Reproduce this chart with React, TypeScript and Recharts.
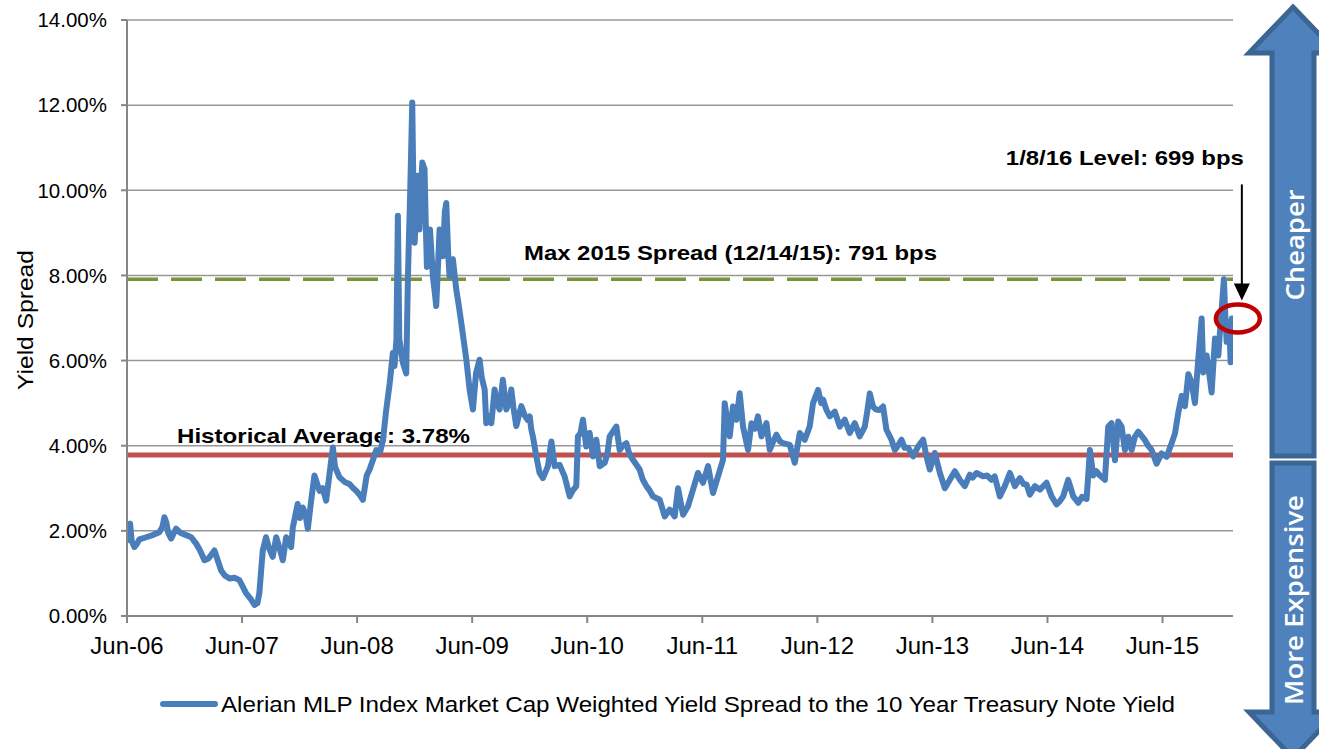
import {
  LineChart,
  Line,
  XAxis,
  YAxis,
  CartesianGrid,
  ReferenceLine,
  ReferenceDot,
} from "recharts";

type Pt = [number, number];

// x = months since Jun-06, y = yield spread in %
const spread2006: Pt[] = [
  [0, 1.78], [0.15, 2.1], [0.32, 2.17], [0.5, 1.75], [0.77, 1.62], [1.05, 1.7],
  [1.29, 1.8], [2.0, 1.85], [2.68, 1.9], [3.38, 1.97], [3.7, 2.1], [3.9, 2.32],
  [4.1, 2.2], [4.3, 1.95], [4.6, 1.82], [5.12, 2.05], [5.6, 1.95], [6.17, 1.9],
  [6.7, 1.85], [7.21, 1.7], [7.6, 1.55], [8.08, 1.31], [8.5, 1.35], [9.12, 1.54],
  [9.4, 1.35], [9.82, 1.07], [10.2, 0.95], [10.69, 0.88], [11.2, 0.9], [11.73, 0.84],
];
const spread2007: Pt[] = [
  [12.43, 0.53], [12.9, 0.4], [13.3, 0.26], [13.6, 0.3], [13.8, 0.53], [14.0, 1.1],
  [14.16, 1.54], [14.5, 1.85], [14.8, 1.6], [15.2, 1.39], [15.56, 1.85], [15.9, 1.6],
  [16.25, 1.31], [16.6, 1.85], [17.12, 1.62], [17.3, 2.09], [17.8, 2.63], [18.05, 2.3],
  [18.33, 2.55], [18.6, 2.4], [18.86, 2.05], [19.2, 2.7], [19.55, 3.3], [20.08, 2.94],
  [20.4, 3.0], [20.77, 2.71], [21.1, 3.3], [21.47, 3.96], [21.7, 3.5], [22.16, 3.26],
  [22.7, 3.15], [23.2, 3.1], [23.6, 3.0], [23.9, 2.94], [24.25, 2.85],
];
const spread2008: Pt[] = [
  [24.6, 2.73], [25.0, 3.3], [25.3, 3.44], [25.7, 3.7], [26.0, 3.9], [26.4, 3.85],
  [26.7, 4.14], [27.04, 4.85], [27.4, 5.47], [27.73, 6.18], [27.9, 5.87], [28.1, 6.5],
  [28.25, 9.4], [28.4, 6.5], [28.77, 5.95], [29.12, 5.7], [29.3, 7.98], [29.54, 10.0],
  [29.75, 12.06], [29.9, 9.5], [30.0, 8.77], [30.2, 9.8], [30.34, 10.34], [30.5, 9.08],
  [30.65, 10.0], [30.8, 10.65], [31.03, 10.5], [31.15, 9.3], [31.28, 8.2], [31.45, 8.5],
  [31.6, 9.08], [31.9, 7.98], [32.1, 7.6], [32.25, 7.28], [32.45, 8.3], [32.6, 9.08],
  [32.94, 8.45], [33.15, 9.5], [33.3, 9.7], [33.5, 8.5], [33.64, 7.98], [33.99, 8.38],
  [34.34, 7.67], [34.6, 7.3], [34.86, 6.89], [35.1, 6.5], [35.39, 6.02], [35.73, 5.32],
  [36.08, 4.85],
];
const spread2009: Pt[] = [
  [36.4, 5.7], [36.77, 6.02], [37.0, 5.6], [37.3, 5.32], [37.47, 4.53], [37.7, 4.7],
  [38.0, 4.53], [38.34, 5.32], [38.6, 5.0], [38.86, 4.85], [39.2, 5.55], [39.56, 4.85],
  [39.8, 5.0], [40.08, 5.32], [40.3, 4.9], [40.6, 4.46], [41.12, 4.93], [41.5, 4.7],
  [41.8, 4.6], [42.0, 4.69], [42.17, 4.38], [42.33, 4.22], [42.69, 3.75], [43.03, 3.36],
  [43.38, 3.24], [43.9, 3.52], [44.26, 4.1], [44.6, 3.52], [45.12, 3.55], [45.64, 3.28],
  [46.17, 2.81], [46.5, 2.95], [46.86, 3.05], [47.03, 4.22], [47.3, 4.3], [47.55, 4.61],
  [47.9, 3.98],
];
const spread2010: Pt[] = [
  [48.25, 4.3], [48.6, 3.75], [48.95, 4.14], [49.3, 3.52], [49.82, 3.6], [50.1, 3.8],
  [50.34, 4.22], [51.04, 4.45], [51.38, 3.9], [51.7, 4.0], [52.08, 4.06], [52.4, 3.8],
  [52.77, 3.67], [53.47, 3.44], [53.8, 3.2], [54.17, 3.05], [54.5, 2.95], [54.86, 2.81],
  [55.56, 2.73], [56.08, 2.34], [56.6, 2.5], [57.12, 2.34], [57.47, 3.0], [57.99, 2.38],
  [58.51, 2.58], [59.03, 2.97], [59.55, 3.36], [60.08, 3.13],
];
const spread2011: Pt[] = [
  [60.6, 3.52], [61.12, 2.89], [61.64, 3.28], [62.16, 3.67], [62.34, 5.0], [62.6, 4.6],
  [62.86, 4.22], [63.2, 4.92], [63.56, 4.61], [63.9, 5.23], [64.25, 4.45], [64.77, 3.9],
  [65.13, 4.53], [65.5, 4.4], [65.8, 4.69], [66.17, 4.22], [66.69, 4.53], [67.04, 3.9],
  [67.4, 4.1], [67.73, 4.26], [68.1, 4.1], [68.42, 4.06], [69.12, 4.02], [69.64, 3.6],
  [70.17, 4.3], [70.69, 4.14], [71.2, 4.45], [71.55, 5.0], [72.08, 5.31],
];
const spread2012: Pt[] = [
  [72.4, 5.0], [72.6, 5.08], [72.95, 4.84], [73.3, 4.69], [73.82, 4.8], [74.34, 4.45],
  [74.86, 4.61], [75.38, 4.3], [75.9, 4.53], [76.42, 4.22], [76.95, 4.45], [77.2, 4.8],
  [77.47, 5.23], [77.8, 4.92], [78.1, 4.85], [78.5, 4.84], [78.86, 4.92], [79.2, 4.38],
  [79.73, 4.14], [80.08, 3.9], [80.4, 4.0], [80.78, 4.14], [81.1, 3.95], [81.47, 3.95],
  [81.99, 3.75], [82.5, 3.98], [83.03, 4.14], [83.38, 3.75], [83.73, 3.44], [84.25, 3.83],
];
const spread2013: Pt[] = [
  [84.78, 3.36], [85.3, 3.0], [85.82, 3.2], [86.34, 3.4], [86.86, 3.2], [87.38, 3.05],
  [87.9, 3.32], [88.2, 3.25], [88.6, 3.36], [89.3, 3.28], [89.7, 3.3], [90.17, 3.2],
  [90.5, 3.28], [91.03, 2.81], [91.55, 3.05], [92.08, 3.36], [92.6, 3.05], [93.12, 3.24],
  [93.5, 3.1], [93.82, 3.09], [94.16, 2.85], [94.69, 3.05], [95.21, 2.97], [95.9, 3.13],
];
const spread2014: Pt[] = [
  [96.43, 2.81], [96.95, 2.62], [97.3, 2.7], [97.64, 2.81], [98.16, 3.2], [98.69, 2.81],
  [99.2, 2.66], [99.6, 2.8], [100.08, 2.75], [100.25, 3.3], [100.43, 3.9], [100.77, 3.3],
  [101.1, 3.4], [101.47, 3.3], [101.99, 3.2], [102.34, 4.45], [102.69, 4.53], [103.04, 3.66],
  [103.38, 4.57], [103.73, 4.45], [104.08, 3.9], [104.43, 4.21], [104.78, 3.9], [105.1, 4.2],
  [105.47, 4.33], [106.17, 4.13], [106.5, 4.0], [106.86, 3.9], [107.38, 3.58], [107.9, 3.82],
];
const spread2015: Pt[] = [
  [108.43, 3.74], [108.95, 4.06], [109.3, 4.29], [109.64, 4.77], [110.0, 5.17], [110.34, 4.93],
  [110.69, 5.68], [111.04, 5.48], [111.38, 5.0], [111.73, 6.04], [112.08, 6.99], [112.25, 5.72],
  [112.6, 6.12], [112.95, 5.56], [113.12, 5.25], [113.47, 6.52], [113.82, 6.12], [113.99, 6.67],
  [114.4, 7.91], [114.55, 7.07], [114.69, 6.44], [114.96, 6.91], [115.1, 5.96], [115.23, 6.99],
];

const tickMonths = [0, 12, 24, 36, 48, 60, 72, 84, 96, 108];
const tickLabels = ["Jun-06", "Jun-07", "Jun-08", "Jun-09", "Jun-10", "Jun-11", "Jun-12", "Jun-13", "Jun-14", "Jun-15"];
const yTicks = [0, 2, 4, 6, 8, 10, 12, 14];

const historicalAverage = 3.78;
const max2015Spread = 7.91;
const lastPoint: Pt = [115.23, 6.99];

const data = [
  ...spread2006, ...spread2007, ...spread2008, ...spread2009, ...spread2010,
  ...spread2011, ...spread2012, ...spread2013, ...spread2014, ...spread2015,
].map(([m, v]) => ({ m, v }));

const FONT = '"Liberation Sans", Arial, sans-serif';
const BLUE = "#4A7EBB";

function lineLabel(text: string, dx: number, dy: number, len: number) {
  return ({ viewBox }: any) => (
    <text
      x={viewBox.x + dx}
      y={viewBox.y + dy}
      fontFamily={FONT}
      fontSize={21}
      fontWeight="bold"
      fill="#000"
      textLength={len}
      lengthAdjust="spacingAndGlyphs"
    >
      {text}
    </text>
  );
}

function LevelCallout({ cx, cy }: { cx: number; cy: number }) {
  return (
    <g>
      <text
        x={cx + 12}
        y={cy - 153}
        textAnchor="end"
        fontFamily={FONT}
        fontSize={21}
        fontWeight="bold"
        fill="#000"
        textLength={238}
        lengthAdjust="spacingAndGlyphs"
      >
        1/8/16 Level: 699 bps
      </text>
      <line x1={cx + 10} y1={cy - 134} x2={cx + 10} y2={cy - 32} stroke="#000" strokeWidth={2} />
      <polygon points={`${cx + 2},${cy - 35} ${cx + 18},${cy - 35} ${cx + 10},${cy - 18}`} fill="#000" />
      <ellipse cx={cx + 6} cy={cy} rx={22} ry={14} fill="none" stroke="#C00000" strokeWidth={4.5} />
    </g>
  );
}

function SideArrows() {
  return (
    <svg
      width={1319}
      height={749}
      style={{ position: "absolute", left: 0, top: 0, pointerEvents: "none" }}
    >
      <polygon
        points="1293,7 1337,53 1314,53 1314,456 1272,456 1272,53 1249,53"
        fill="#4F81BD"
        stroke="#3B6593"
        strokeWidth={5}
        strokeLinejoin="miter"
      />
      <polygon
        points="1272,463 1314,463 1314,712 1337,712 1293,758 1249,712 1272,712"
        fill="#4F81BD"
        stroke="#3B6593"
        strokeWidth={5}
        strokeLinejoin="miter"
      />
      <text
        x={1294}
        y={245}
        transform="rotate(-90 1294 245)"
        textAnchor="middle"
        dominantBaseline="central"
        fontFamily='"Open Sans", sans-serif'
        fontWeight={600}
        fontSize={26}
        fill="#fff"
        textLength={111}
        lengthAdjust="spacingAndGlyphs"
      >
        Cheaper
      </text>
      <text
        x={1293}
        y={600}
        transform="rotate(-90 1293 600)"
        textAnchor="middle"
        dominantBaseline="central"
        fontFamily='"Open Sans", sans-serif'
        fontWeight={600}
        fontSize={26}
        fill="#fff"
        textLength={210}
        lengthAdjust="spacingAndGlyphs"
      >
        More Expensive
      </text>
      {/* legend */}
      <line x1={163} y1={704} x2={215} y2={704} stroke={BLUE} strokeWidth={6} strokeLinecap="round" />
      <text
        x={221}
        y={712}
        fontFamily={FONT}
        fontSize={22}
        fill="#000"
        textLength={954}
        lengthAdjust="spacingAndGlyphs"
      >
        Alerian MLP Index Market Cap Weighted Yield Spread to the 10 Year Treasury Note Yield
      </text>
    </svg>
  );
}

export default function App() {
  return (
    <div
      style={{
        position: "absolute",
        left: 0,
        top: 0,
        width: 1319,
        height: 749,
        background: "#fff",
        fontFamily: FONT,
      }}
    >
      <LineChart
        width={1319}
        height={749}
        data={data}
        margin={{ top: 20, right: 86, bottom: 73, left: 0 }}
      >
        <CartesianGrid vertical={false} stroke="#979797" strokeWidth={1.5} />
        <XAxis
          type="number"
          dataKey="m"
          domain={[0, 115.35]}
          ticks={tickMonths}
          interval={0}
          tickFormatter={(m: number) => tickLabels[tickMonths.indexOf(m)]}
          height={60}
          tickSize={7}
          tickMargin={14}
          axisLine={{ stroke: "#868686", strokeWidth: 2 }}
          tickLine={{ stroke: "#868686", strokeWidth: 2 }}
          tick={{ fill: "#000", fontSize: 24, fontFamily: FONT }}
          allowDataOverflow
        />
        <YAxis
          type="number"
          domain={[0, 14]}
          ticks={yTicks}
          interval={0}
          width={127}
          tickSize={6}
          tickMargin={14}
          tickFormatter={(v: number) => `${v.toFixed(2)}%`}
          axisLine={{ stroke: "#868686", strokeWidth: 2 }}
          tickLine={{ stroke: "#868686", strokeWidth: 2 }}
          tick={{ fill: "#000", fontSize: 20.5, fontFamily: FONT }}
          label={{
            content: () => (
              <text
                x={25}
                y={320}
                transform="rotate(-90 25 320)"
                textAnchor="middle"
                dominantBaseline="central"
                fontFamily={FONT}
                fontSize={22}
                fill="#000"
                textLength={140}
                lengthAdjust="spacingAndGlyphs"
              >
                Yield Spread
              </text>
            ),
          }}
        />
        <ReferenceLine
          y={historicalAverage}
          stroke="#C0504D"
          strokeWidth={5}
          ifOverflow="visible"
          label={lineLabel("Historical Average: 3.78%", 50, -12, 293)}
        />
        <ReferenceLine
          y={max2015Spread}
          stroke="#77933C"
          strokeWidth={3.5}
          strokeDasharray="31 13"
          ifOverflow="visible"
          label={lineLabel("Max 2015 Spread (12/14/15): 791 bps", 397, -19, 413)}
        />
        <Line
          type="linear"
          dataKey="v"
          stroke={BLUE}
          strokeWidth={6}
          style={{ strokeWidth: 6 }}
          strokeLinejoin="round"
          strokeLinecap="round"
          dot={false}
          activeDot={false}
          isAnimationActive={false}
        />
        <ReferenceDot
          x={lastPoint[0]}
          y={lastPoint[1]}
          ifOverflow="visible"
          shape={(p: any) => <LevelCallout cx={p.cx} cy={p.cy} />}
        />
      </LineChart>
      <SideArrows />
    </div>
  );
}
